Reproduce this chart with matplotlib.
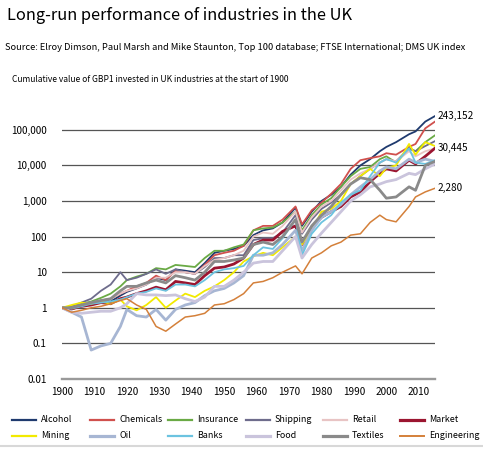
import matplotlib
matplotlib.use("Agg")
import matplotlib.pyplot as plt
from matplotlib.lines import Line2D
import numpy as np

years = [1900, 1903, 1906, 1909, 1912, 1915, 1918, 1920, 1923, 1926, 1929, 1932, 1935, 1938,
         1941, 1944, 1947, 1950, 1953, 1956, 1959, 1962, 1965, 1968, 1972, 1974, 1977, 1980,
         1983, 1986, 1989, 1992, 1995, 1998, 2000, 2003, 2007, 2009, 2012, 2015]

alcohol = [1, 0.9, 1.2, 1.4, 1.6, 1.5, 2.2, 2.8, 3.5, 4.5, 7, 6, 12, 11, 10, 18, 35, 40, 45, 55,
           110, 150, 170, 250, 650, 200, 500, 1000, 1500, 2500, 5500, 10000, 15000, 25000, 33000,
           45000, 75000, 90000, 170000, 243152]
chemicals = [1, 0.9, 1.1, 1.3, 1.6, 1.8, 2.5, 3, 4, 5, 8, 6, 11, 10, 9, 16, 30, 35, 40, 55,
             150, 200, 200, 300, 700, 220, 550, 900, 1600, 3000, 8000, 14000, 16000, 18000, 22000,
             20000, 33000, 40000, 110000, 170000]
insurance = [1, 1.0, 1.3, 1.5, 1.9, 2.5, 4, 6, 7.5, 9, 13, 12, 16, 15, 14, 25, 40, 40, 50, 60,
             150, 170, 180, 250, 500, 150, 400, 800, 1200, 2500, 5000, 8000, 9000, 15000, 18000,
             12000, 30000, 25000, 45000, 70000]
shipping = [1, 1.1, 1.4, 1.8, 3, 4.5, 10, 6, 7, 9, 12, 9, 12, 10, 9, 14, 25, 25, 30, 30,
            80, 90, 90, 130, 400, 120, 300, 600, 900, 1500, 3000, 5000, 8000, 12000, 15000,
            13000, 30000, 25000, 35000, 48000]
retail = [1, 1.0, 1.2, 1.4, 1.6, 1.8, 2.5, 3, 3.5, 4.5, 7, 7, 10, 10, 9, 15, 22, 25, 30, 40,
          100, 130, 120, 200, 500, 130, 350, 700, 1000, 2000, 4000, 6000, 8000, 12000, 15000,
          13000, 25000, 18000, 25000, 30000]
market = [1, 0.95, 1.1, 1.2, 1.4, 1.3, 1.8, 2.0, 2.5, 3.0, 3.8, 3.2, 5.5, 5, 4.5, 8, 13, 14, 17,
          25, 60, 80, 80, 140, 200, 60, 180, 350, 500, 700, 1300, 1800, 3500, 6000, 8000,
          7000, 14000, 11000, 18000, 30445]
mining = [1, 1.2, 1.4, 1.3, 1.5, 1.3, 1.7, 1.1, 0.85, 1.2, 2, 1, 1.6, 2.5, 2, 3, 4, 6, 10, 20,
          28, 35, 30, 50, 100, 60, 150, 500, 600, 1000, 3000, 5000, 8000, 5000, 8500,
          10000, 40000, 20000, 45000, 35000]
oil = [1, 0.75, 0.55, 0.065, 0.085, 0.1, 0.3, 0.9, 0.6, 0.55, 0.9, 0.45, 0.9, 1.2, 1.4, 2.2,
       3, 3.5, 5, 8, 30, 30, 35, 60, 150, 40, 150, 350, 500, 800, 1500, 2500, 4000, 7000, 9000,
       8000, 15000, 12000, 15000, 13000]
banks = [1, 0.95, 1.1, 1.3, 1.4, 1.5, 1.7, 2, 2.5, 2.8, 3.5, 3, 4.5, 4.5, 4, 6, 10, 12, 13, 15,
         30, 50, 45, 90, 300, 30, 120, 250, 400, 900, 1500, 2000, 5000, 12000, 15000,
         12000, 30000, 12000, 11000, 14000]
food = [1, 0.75, 0.7, 0.75, 0.8, 0.8, 1.0, 1.3, 2.5, 2.3, 2.3, 2.2, 2.3, 1.8, 1.5, 2, 4, 4, 6,
        10, 18, 20, 20, 40, 100, 25, 60, 125, 250, 500, 1000, 1500, 2500, 3000, 3500, 4000,
        6000, 5500, 8000, 11000]
textiles = [1, 1, 1.2, 1.4, 1.6, 1.8, 3, 4, 4, 5, 6, 5, 8, 7, 6, 10, 20, 20, 22, 25, 60, 70, 60,
            100, 300, 70, 200, 400, 700, 1500, 3000, 4500, 4000, 2000, 1200, 1300, 2500, 2000,
            10000, 13000]
engineering = [1, 0.75, 0.85, 1.0, 1.1, 1.3, 1.6, 1.8, 1.2, 0.9, 0.3, 0.22, 0.35, 0.55, 0.6,
               0.7, 1.2, 1.3, 1.7, 2.5, 5, 5.5, 7, 10, 15, 9, 25, 35, 55, 70, 110, 120, 250,
               400, 300, 260, 700, 1300, 1800, 2280]

names = ["Alcohol", "Chemicals", "Insurance", "Shipping", "Retail", "Market",
         "Mining", "Oil", "Banks", "Food", "Textiles", "Engineering"]
series = [alcohol, chemicals, insurance, shipping, retail, market,
          mining, oil, banks, food, textiles, engineering]
colors = ["#1f3a6e", "#d0504d", "#6aaa45", "#6e6c8c", "#e8c4c4", "#9b1530",
          "#f2ea00", "#a7b6d3", "#6cc3e0", "#cac4dc", "#8a8a8a", "#d4803a"]
widths = [1.3, 1.3, 1.3, 1.3, 1.3, 2.0, 1.3, 2.0, 1.3, 2.0, 2.0, 1.1]

yticks = [0.01, 0.1, 1, 10, 100, 1000, 10000, 100000]
ytick_labels = ["0.01", "0.1", "1", "10", "100", "1,000", "10,000", "100,000"]
xticks = list(range(1900, 2011, 10))
end_labels = ["243,152", "30,445", "2,280"]
end_series = [alcohol, market, engineering]

W, H = 483, 450
fig = plt.figure(figsize=(W / 100, H / 100), dpi=100)
fig.patch.set_facecolor("white")
FONT = ["Noto Sans CJK JP", "DejaVu Sans"]

ax = fig.add_axes([62 / W, 1 - 379 / H, (435 - 62) / W, (379 - 105) / H])
ax.set_yscale("log")
ax.set_xlim(1900, 2015)
ax.set_ylim(0.01, 10 ** ((379 - 105) / 35.6 - 2))
for s in ax.spines.values():
    s.set_visible(False)

for v in yticks:
    if v == 0.01:
        ax.axhline(v, color="#9a9a9a", lw=1.7, zorder=1, clip_on=False)
    else:
        ax.axhline(v, color="#555555", lw=0.9, zorder=1)

for vals, c, lw in zip(series, colors, widths):
    ax.plot(years, vals, color=c, lw=lw, zorder=3, solid_joinstyle="round")

ax.set_yticks(yticks)
ax.set_yticklabels(ytick_labels, fontsize=7.2, family=FONT)
ax.yaxis.set_minor_locator(matplotlib.ticker.NullLocator())
ax.set_xticks(xticks)
ax.set_xticklabels([str(x) for x in xticks], fontsize=7.2, family=FONT)
ax.tick_params(axis="both", length=0)
ax.tick_params(axis="y", pad=11)
ax.tick_params(axis="x", pad=6)

for lab, vals in zip(end_labels, end_series):
    ax.annotate(lab, xy=(years[-1], vals[-1]), xytext=(2, 0), textcoords="offset points",
                fontsize=7.2, family=FONT, va="center", ha="left", annotation_clip=False)

fig.text(7 / W, 1 - 15 / H, "Long-run performance of industries in the UK", fontsize=11.8,
         family=FONT, weight="normal", va="center", ha="left")
fig.text(5 / W, 1 - 47 / H,
         "Source: Elroy Dimson, Paul Marsh and Mike Staunton, Top 100 database; FTSE International; DMS UK index",
         fontsize=6.7, family=FONT, va="center", ha="left")
fig.text(12 / W, 1 - 80 / H,
         "Cumulative value of GBP1 invested in UK industries at the start of 1900",
         fontsize=6.1, family=FONT, va="center", ha="left")

# legend: two rows, six columns
col_x = [12, 90, 168, 246, 323, 400]
row_y = [420, 436]
for i, (nm, c, lw) in enumerate(zip(names, colors, widths)):
    r, k = divmod(i, 6)
    x0 = col_x[k]
    y0 = 1 - row_y[r] / H
    fig.add_artist(Line2D([x0 / W, (x0 + 24) / W], [y0, y0], color=c, lw=lw + 0.3,
                          transform=fig.transFigure))
    fig.text((x0 + 29) / W, y0, nm, fontsize=6.4, family=FONT, va="center", ha="left")

fig.add_artist(Line2D([0, 1], [1 - 446 / H, 1 - 446 / H], color="#d8d8d8", lw=1.5,
                      transform=fig.transFigure))

fig.savefig("out.png", dpi=100)
